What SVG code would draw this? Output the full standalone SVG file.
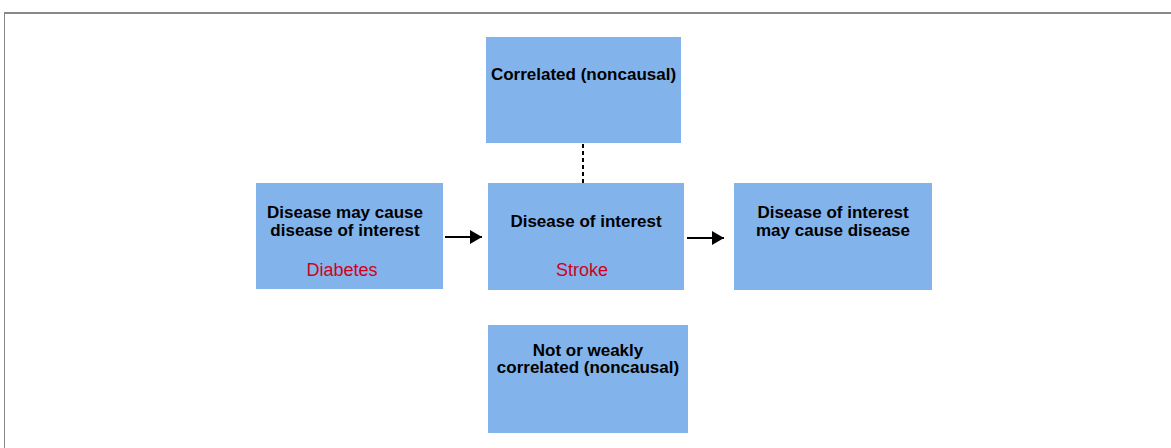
<svg xmlns="http://www.w3.org/2000/svg" width="1171" height="448" viewBox="0 0 1171 448">
<defs>
<style>
.box{fill:#82b3ea;}
.t{font-family:"Liberation Sans",Arial,sans-serif;font-size:17px;font-weight:bold;fill:#000;text-anchor:middle;}
.r{font-family:"Liberation Sans",Arial,sans-serif;font-size:18px;fill:#d0021b;text-anchor:middle;}
.c{stroke:#000;stroke-width:2;fill:none;}
</style>
<marker id="ah" markerWidth="12" markerHeight="14" refX="12" refY="7" orient="auto" markerUnits="userSpaceOnUse">
<path d="M0,0 L12,7 L0,14 Z" fill="#000"/>
</marker>
</defs>
<rect x="0" y="0" width="1171" height="448" fill="#fff"/>
<g id="frame">
<line x1="4" y1="13" x2="1171" y2="13" stroke="#888" stroke-width="2"/>
<line x1="4.5" y1="12" x2="4.5" y2="448" stroke="#888" stroke-width="1"/>
</g>
<g id="connectors">
<line class="c" x1="445" y1="237" x2="482" y2="237" marker-end="url(#ah)"/>
<line class="c" x1="687" y1="238" x2="724" y2="238" marker-end="url(#ah)"/>
<line x1="583" y1="144" x2="583" y2="183" stroke="#000" stroke-width="2" stroke-dasharray="4,3"/>
</g>
<g id="correlated">
<rect class="box" x="486" y="37" width="195" height="106"/>
<text class="t" x="583.5" y="80">Correlated (noncausal)</text>
</g>
<g id="cause">
<rect class="box" x="256" y="183" width="187" height="106"/>
<text class="t" x="345" y="218">Disease may cause</text>
<text class="t" x="345" y="236">disease of interest</text>
<text class="r" x="342" y="276">Diabetes</text>
</g>
<g id="interest">
<rect class="box" x="488" y="183" width="196" height="107"/>
<text class="t" x="586" y="227">Disease of interest</text>
<text class="r" x="582" y="276">Stroke</text>
</g>
<g id="effect">
<rect class="box" x="734" y="183" width="198" height="107"/>
<text class="t" x="833" y="218">Disease of interest</text>
<text class="t" x="833" y="236">may cause disease</text>
</g>
<g id="weak">
<rect class="box" x="488" y="325" width="200" height="108"/>
<text class="t" x="588" y="356">Not or weakly</text>
<text class="t" x="588" y="373">correlated (noncausal)</text>
</g>
</svg>
